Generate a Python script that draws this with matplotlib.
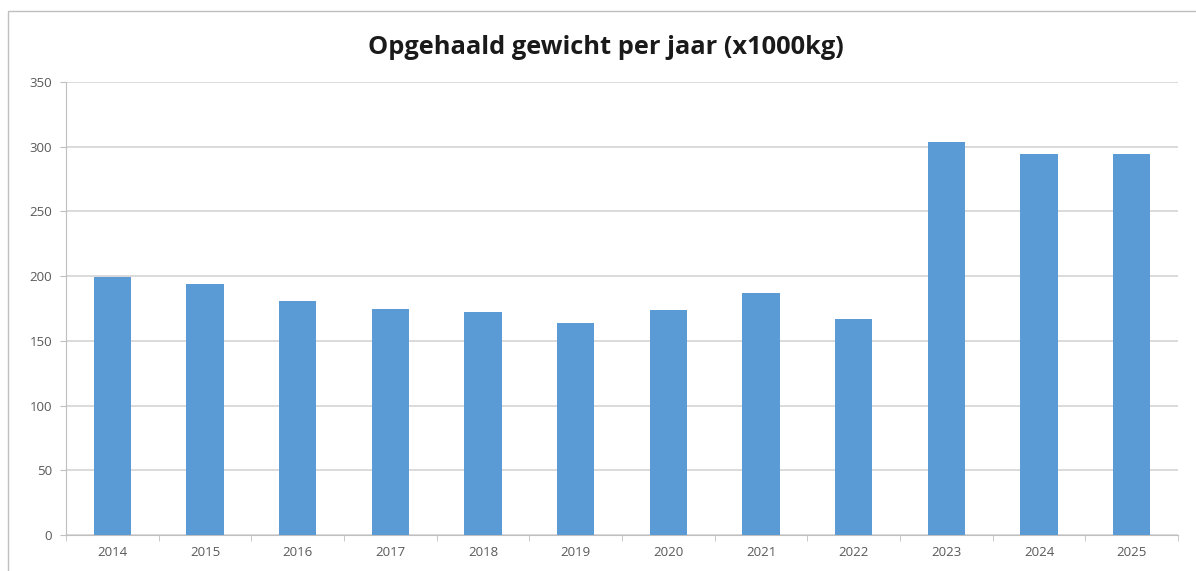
import matplotlib.pyplot as plt
import numpy as np
from matplotlib.patches import Rectangle

# data
jaren = ['2014', '2015', '2016', '2017', '2018', '2019', '2020', '2021', '2022', '2023', '2024', '2025']
gewicht = [199, 194, 181, 175, 172, 164, 174, 187, 167, 304, 294, 294]
y_ticks = [0, 50, 100, 150, 200, 250, 300, 350]

plt.rcParams['font.family'] = ['Open Sans', 'DejaVu Sans']

fig = plt.figure(figsize=(11.96, 5.71), dpi=100)
ax = fig.add_axes([66 / 1196, 1 - 535 / 571, (1178 - 66) / 1196, (535 - 82) / 571])

x = np.arange(len(jaren))
ax.bar(x, gewicht, width=0.4, color='#5B9BD5', zorder=3)

ax.set_xlim(-0.5, len(jaren) - 0.5)
ax.set_ylim(0, 350)
ax.set_yticks(y_ticks)
ax.set_xticks(x)
ax.set_xticklabels(jaren)
ax.set_xticks(np.arange(-0.5, len(jaren), 1), minor=True)

ax.grid(axis='y', color='#D4D4D4', linewidth=1.2, zorder=0)
for s in ['top', 'right']:
    ax.spines[s].set_visible(False)
ax.spines['left'].set_color('#BFBFBF')
ax.spines['bottom'].set_color('#BFBFBF')

ax.tick_params(axis='y', length=4, color='#BFBFBF', labelsize=9.5, labelcolor='#595959', pad=6)
ax.tick_params(axis='x', which='major', length=0, labelsize=9.5, labelcolor='#595959', pad=8)
ax.tick_params(axis='x', which='minor', length=4, color='#BFBFBF')

fig.text(606 / 1196, 1 - 47 / 571, 'Opgehaald gewicht per jaar (x1000kg)', ha='center', va='center',
         fontsize=18.3, fontweight='bold', color='#1a1a1a')

# kader rond de grafiek
fig.patches.append(Rectangle((8 / 1196, -0.02), 1.1, 1 - 11 / 571 + 0.02, transform=fig.transFigure,
                             fill=False, edgecolor='#BFBFBF', linewidth=1))

fig.savefig('out.png', dpi=100)
